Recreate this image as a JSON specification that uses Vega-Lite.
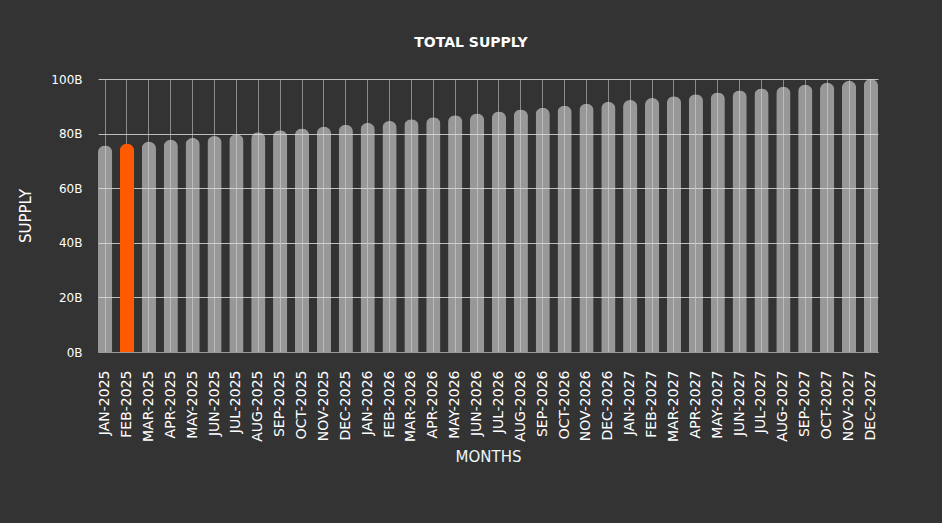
{
  "$schema": "https://vega.github.io/schema/vega-lite/v6.json",
  "width": 780,
  "height": 273,
  "autosize": {"type": "none"},
  "padding": {"left": 98, "top": 79, "right": 64, "bottom": 171},
  "background": "#333333",
  "title": {"text": "TOTAL SUPPLY", "color": "#ffffff", "font": "DejaVu Sans", "fontSize": 14, "fontWeight": "bold", "dx": -17, "offset": 23},
  "data": {"values": [
    {"month": "JAN-2025", "supply": 75.6},
    {"month": "FEB-2025", "supply": 76.3},
    {"month": "MAR-2025", "supply": 77.0},
    {"month": "APR-2025", "supply": 77.7},
    {"month": "MAY-2025", "supply": 78.4},
    {"month": "JUN-2025", "supply": 79.1},
    {"month": "JUL-2025", "supply": 79.8},
    {"month": "AUG-2025", "supply": 80.5},
    {"month": "SEP-2025", "supply": 81.2},
    {"month": "OCT-2025", "supply": 81.9},
    {"month": "NOV-2025", "supply": 82.5},
    {"month": "DEC-2025", "supply": 83.2},
    {"month": "JAN-2026", "supply": 83.9},
    {"month": "FEB-2026", "supply": 84.6},
    {"month": "MAR-2026", "supply": 85.3},
    {"month": "APR-2026", "supply": 86.0},
    {"month": "MAY-2026", "supply": 86.7},
    {"month": "JUN-2026", "supply": 87.4},
    {"month": "JUL-2026", "supply": 88.1},
    {"month": "AUG-2026", "supply": 88.8},
    {"month": "SEP-2026", "supply": 89.5},
    {"month": "OCT-2026", "supply": 90.2},
    {"month": "NOV-2026", "supply": 90.9},
    {"month": "DEC-2026", "supply": 91.6},
    {"month": "JAN-2027", "supply": 92.3},
    {"month": "FEB-2027", "supply": 93.0},
    {"month": "MAR-2027", "supply": 93.7},
    {"month": "APR-2027", "supply": 94.4},
    {"month": "MAY-2027", "supply": 95.1},
    {"month": "JUN-2027", "supply": 95.8},
    {"month": "JUL-2027", "supply": 96.5},
    {"month": "AUG-2027", "supply": 97.2},
    {"month": "SEP-2027", "supply": 97.9},
    {"month": "OCT-2027", "supply": 98.6},
    {"month": "NOV-2027", "supply": 99.3},
    {"month": "DEC-2027", "supply": 100.0}
  ]},
  "mark": {"type": "bar", "cornerRadiusTopLeft": 7, "cornerRadiusTopRight": 7},
  "encoding": {
    "x": {
      "field": "month", "type": "ordinal", "sort": null,
      "scale": {"paddingInner": 0.35, "paddingOuter": 0},
      "axis": {
        "labelAngle": -90, "ticks": false, "labelPadding": 18,
        "grid": true, "gridColor": "#8a8a8a", "bandPosition": 0.5,
        "domain": true, "domainColor": "#9a9a9a",
        "labelColor": "#ffffff", "labelFont": "DejaVu Sans", "labelFontSize": 14,
        "title": "MONTHS", "titleColor": "#eaf7fb", "titleFont": "DejaVu Sans", "titleFontSize": 15, "titleFontWeight": "normal", "titlePadding": 8
      }
    },
    "y": {
      "field": "supply", "type": "quantitative",
      "scale": {"domain": [0, 100]},
      "axis": {
        "values": [0, 20, 40, 60, 80, 100],
        "labelExpr": "datum.value + 'B'",
        "domain": false, "ticks": false, "labelPadding": 16,
        "gridColor": "#bdbdbd",
        "labelColor": "#ffffff", "labelFont": "DejaVu Sans", "labelFontSize": 12,
        "title": "SUPPLY", "titleColor": "#ffffff", "titleFont": "DejaVu Sans", "titleFontSize": 15, "titleFontWeight": "normal", "titlePadding": 17
      }
    },
    "color": {"condition": {"test": "datum.month === 'FEB-2025'", "value": "#ff5a00"}, "value": "#dcdcdc"},
    "opacity": {"condition": {"test": "datum.month === 'FEB-2025'", "value": 1}, "value": 0.6}
  },
  "config": {"view": {"stroke": null}}
}
